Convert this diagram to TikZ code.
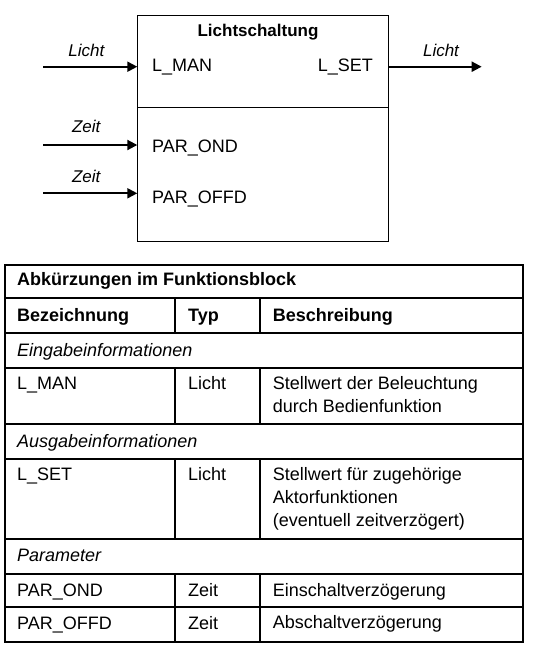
\documentclass[tikz,border=0pt]{standalone}
\usepackage{fontspec}
\setmainfont{Liberation Sans}
\usetikzlibrary{positioning}
\usetikzlibrary{arrows.meta}

\begin{document}
\begin{tikzpicture}[x=1pt, y=-1pt,
    every node/.style={inner sep=0pt, font=\fontsize{18}{23}\selectfont},
    cell/.style={anchor=base west, align=left},
    head/.style={cell, font=\bfseries\fontsize{18}{23}\selectfont},
    group/.style={cell, font=\itshape\fontsize{18}{23}\selectfont},
    sig/.style={line width=2pt, -{Triangle[length=10pt, width=10pt]}},
    siglabel/.style={anchor=base, font=\itshape\fontsize{17}{20}\selectfont},
    tbl/.style={line width=2pt}]
    \useasboundingbox (0,0) rectangle (536,645);

    % function block
    \node [draw, line width=1pt, anchor=north west, minimum width=251pt, minimum height=226pt] (blk) at (137.3,15) {};
    \draw [line width=1pt] (blk.west |- 0,107) -- (blk.east |- 0,107);
    \node [anchor=base, font=\bfseries\fontsize{17}{20}\selectfont] (title) at (258,36.7) {Lichtschaltung};

    \node [anchor=base west] (lman) at (152,71) {L\_MAN};
    \node [anchor=base east] (lset) at (373,71) {L\_SET};
    \node [anchor=base west] (parond) at (152,152.7) {PAR\_OND};
    \node [anchor=base west] (paroffd) at (152,203.3) {PAR\_OFFD};

    \coordinate (in1) at (43,66.7);
    \coordinate (in2) at (43,145);
    \coordinate (in3) at (43,193.3);
    \coordinate (out1) at (481.7,66.7);

    \draw [sig] (in1) -- (in1 -| blk.west);
    \draw [sig] (in2) -- (in2 -| blk.west);
    \draw [sig] (in3) -- (in3 -| blk.west);
    \draw [sig] (out1 -| blk.east) -- (out1);

    \node [siglabel] (l1) at (86.3,56) {Licht};
    \node [siglabel] (l2) at (86.2,132.7) {Zeit};
    \node [siglabel] (l3) at (86.2,182.7) {Zeit};
    \node [siglabel] (l4) at (441,56) {Licht};

    % table
    \draw [tbl] (5,265) rectangle (523,641.5);
    \foreach \y in {297.7, 333, 368, 424.3, 459, 538.7, 573.5, 607.3}
        \draw [tbl] (5,\y) -- (523,\y);
    \foreach \ya/\yb in {297.7/333, 368/424.3, 459/538.7, 573.5/641.5} {
        \draw [tbl] (174.5,\ya) -- (174.5,\yb);
        \draw [tbl] (259.5,\ya) -- (259.5,\yb);
    }

    \node [head] (th) at (17,285.7) {Abkürzungen im Funktionsblock};
    \node [head] (hname) at (17,321.7) {Bezeichnung};
    \node [head] (htype) at (188,321.7) {Typ};
    \node [head] (hdesc) at (272.7,321.7) {Beschreibung};

    \node [group] (gin) at (17,356) {Eingabeinformationen};
    \node [cell] (n1) at (17,389) {L\_MAN};
    \node [cell] (t1) at (188,389) {Licht};
    % multi-line cells sit on their last baseline
    \node [cell] (d1) at (272.7,412.3) {Stellwert der Beleuchtung\\durch Bedienfunktion};

    \node [group] (gout) at (17,447.5) {Ausgabeinformationen};
    \node [cell] (n2) at (17,480.7) {L\_SET};
    \node [cell] (t2) at (188,480.7) {Licht};
    \node [cell] (d2) at (272.7,526.7) {Stellwert für zugehörige\\Aktorfunktionen\\(eventuell zeitverzögert)};

    \node [group] (gpar) at (17,561) {Parameter};
    \node [cell] (n3) at (17,596) {PAR\_OND};
    \node [cell] (t3) at (188,596) {Zeit};
    \node [cell] (d3) at (272.7,596.5) {Einschaltverzögerung};
    \node [cell] (n4) at (17,629.5) {PAR\_OFFD};
    \node [cell] (t4) at (188,629.5) {Zeit};
    \node [cell] (d4) at (272.7,628.7) {Abschaltverzögerung};
\end{tikzpicture}
\end{document}
